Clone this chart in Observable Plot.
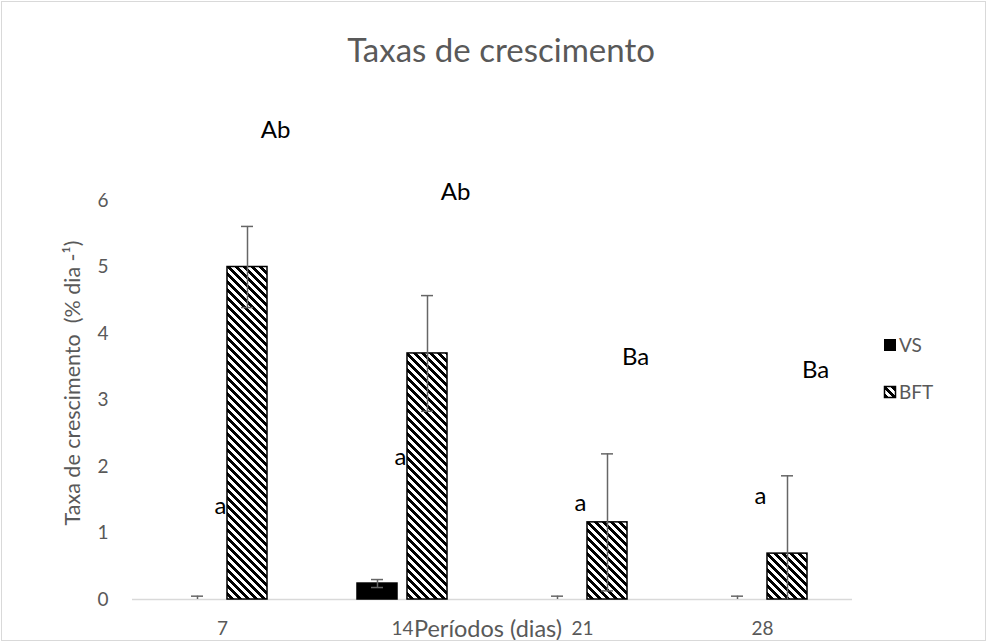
<!DOCTYPE html>
<html>
<head>
<meta charset="utf-8">
<script src="https://cdn.jsdelivr.net/npm/d3@7"></script>
<script src="https://cdn.jsdelivr.net/npm/@observablehq/plot@0.6"></script>
<style>
  html, body { margin: 0; padding: 0; background: #fff; }
  #chart { position: relative; width: 987px; height: 642px; overflow: hidden; }
  #chart svg { position: absolute; left: 0; top: 0; }
  .frame { position: absolute; left: 1px; top: 1px; width: 983px; height: 638px;
           border: 1px solid #d9d9d9; pointer-events: none; }
</style>
</head>
<body>
<div id="chart"><div class="frame"></div></div>
<script>
// Growth rate per sampling period (days), two treatments
const periods = ["7", "14", "21", "28"];
const series = ["VS", "BFT"];
const vsMean = [0, 0.24, 0, 0];
const vsSd = [0.05, 0.06, 0.05, 0.05];
const bftMean = [5.0, 3.7, 1.16, 0.69];
const bftSd = [0.61, 0.87, 1.03, 1.17];
const yTicks = [0, 1, 2, 3, 4, 5, 6];

// Significance letters and the heights (in % dia⁻¹) where they are anchored
const vsLetters = ["a", "a", "a", "a"];
const vsLetterAt = [1.40, 2.14, 1.44, 1.55];
const bftLetters = ["Ab", "Ab", "Ba", "Ba"];
const bftLetterAt = [7.05, 6.12, 3.64, 3.44];

const rows = periods.flatMap((p, i) => [
  {period: p, series: "VS", mean: vsMean[i], sd: vsSd[i], letter: vsLetters[i], letterAt: vsLetterAt[i]},
  {period: p, series: "BFT", mean: bftMean[i], sd: bftSd[i], letter: bftLetters[i], letterAt: bftLetterAt[i]}
]);
rows.forEach(d => { d.hi = d.mean + d.sd; d.lo = Math.max(0, d.mean - d.sd); d.lowCap = d.mean - d.sd >= 0; });

const vsRows = rows.filter(d => d.series === "VS");
const bftRows = rows.filter(d => d.series === "BFT");
const errColor = "#666666";
const font = "Lato, 'Open Sans', sans-serif";

const chart = Plot.plot({
  width: 987,
  height: 642,
  marginLeft: 132,
  marginRight: 135,
  marginTop: 200,
  marginBottom: 43,
  style: {fontFamily: font, fontSize: "19px", color: "#595959", background: "transparent", overflow: "visible"},
  fx: {domain: periods, padding: 0, axis: "bottom", tickSize: 0, tickPadding: 22, label: null},
  x: {domain: series, paddingInner: 0.2, paddingOuter: 0.9, axis: null},
  y: {domain: [0, 6], ticks: yTicks, tickSize: 0, tickPadding: 24, label: null, tickFormat: d3.format("d")},
  marks: [
    Plot.ruleY([0], {stroke: "#d9d9d9", strokeWidth: 1.5}),
    Plot.barY(vsRows, {fx: "period", x: "series", y: "mean", fill: "black", stroke: "black", strokeWidth: 1.5}),
    Plot.barY(bftRows, {fx: "period", x: "series", y: "mean", fill: "url(#bft-hatch)", stroke: "black", strokeWidth: 1.5}),
    Plot.ruleX(rows, {fx: "period", x: "series", y1: "lo", y2: "hi", stroke: errColor, strokeWidth: 1.5}),
    Plot.tickY(rows, {fx: "period", x: "series", y: "hi", stroke: errColor, strokeWidth: 1.5, insetLeft: 14, insetRight: 14}),
    Plot.tickY(rows.filter(d => d.lowCap), {fx: "period", x: "series", y: "lo", stroke: errColor, strokeWidth: 1.5, insetLeft: 14, insetRight: 14}),
    Plot.text(vsRows, {fx: "period", x: "series", y: "letterAt", text: "letter", dx: 23, fill: "black", fontSize: 24}),
    Plot.text(bftRows, {fx: "period", x: "series", y: "letterAt", text: "letter", dx: 28, fill: "black", fontSize: 24})
  ]
});

const svg = d3.select(chart);

// Hatch pattern: wide downward diagonal, 8×8 cell
const pat = svg.insert("defs", ":first-child").append("pattern")
  .attr("id", "bft-hatch").attr("width", 8).attr("height", 8)
  .attr("patternUnits", "userSpaceOnUse");
pat.append("rect").attr("width", 8).attr("height", 8).attr("fill", "white");
for (let r = 0; r < 8; r++) {
  for (let k = 0; k < 4; k++) {
    pat.append("rect").attr("x", (r + k) % 8).attr("y", r).attr("width", 1).attr("height", 1)
      .attr("fill", "black").attr("shape-rendering", "crispEdges");
  }
}

const ann = svg.append("g").attr("font-family", font).attr("fill", "#595959");
ann.append("text").attr("x", 501).attr("y", 62).attr("text-anchor", "middle")
  .attr("font-size", 33).text("Taxas de crescimento");
ann.append("text").attr("x", 488).attr("y", 637).attr("text-anchor", "middle")
  .attr("font-size", 23.5).text("Períodos (dias)");
ann.append("text").attr("transform", "translate(80,383) rotate(-90)").attr("text-anchor", "middle")
  .attr("font-size", 21.5).text("Taxa de crescimento  (% dia -¹)");

// Legend
const legend = ann.append("g").attr("font-size", 19).attr("text-anchor", "start");
legend.append("rect").attr("x", 884).attr("y", 339).attr("width", 12).attr("height", 12).attr("fill", "black");
legend.append("text").attr("x", 899).attr("y", 352).text(series[0]);
legend.append("rect").attr("x", 884.5).attr("y", 386.5).attr("width", 11).attr("height", 11)
  .attr("fill", "url(#bft-hatch)").attr("stroke", "black").attr("stroke-width", 1.5);
legend.append("text").attr("x", 899).attr("y", 399).text(series[1]);

document.getElementById("chart").prepend(chart);
</script>
</body>
</html>
